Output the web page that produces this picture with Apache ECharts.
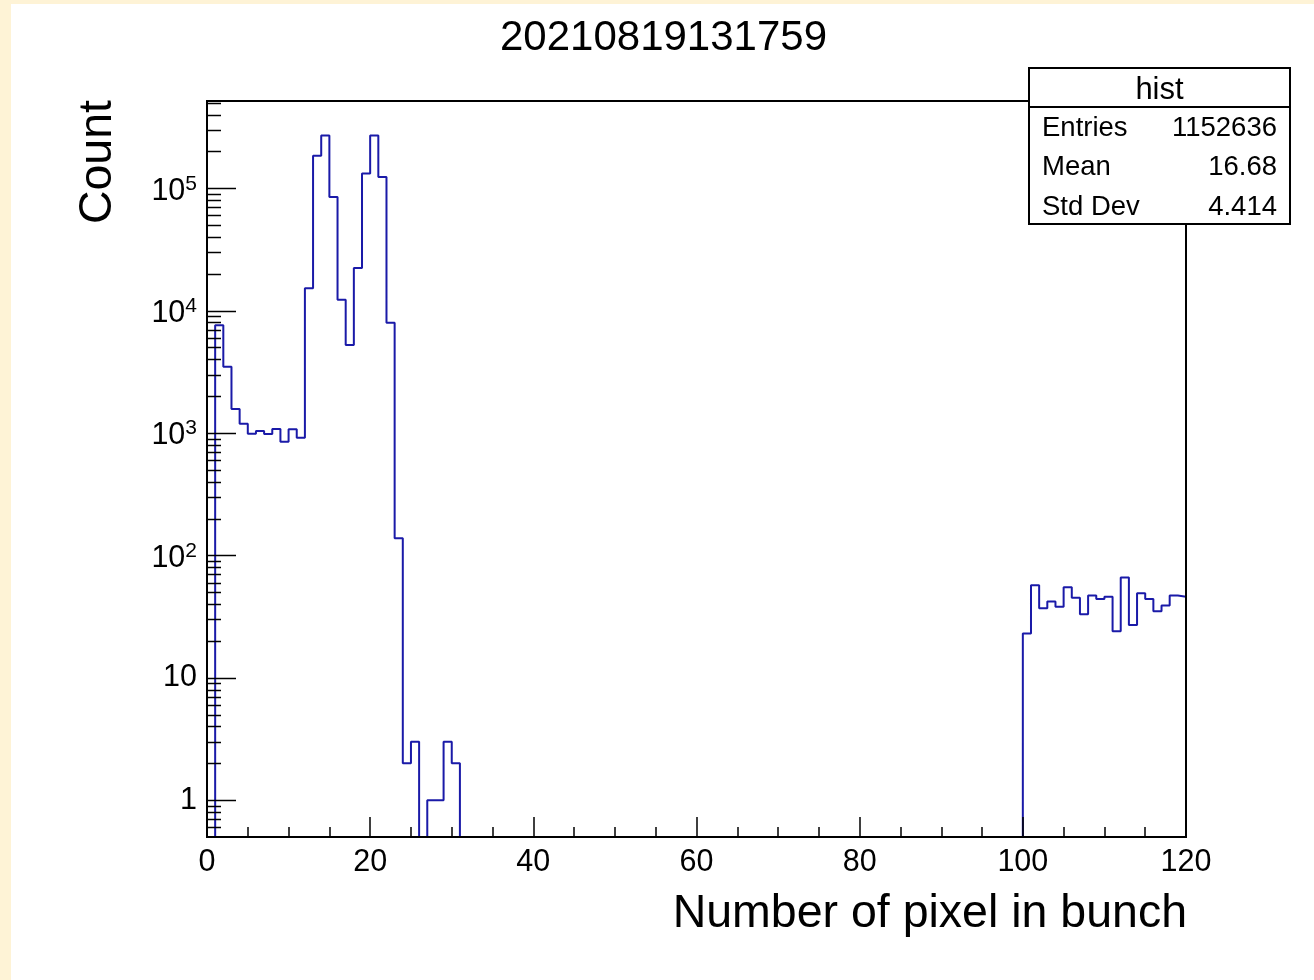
<!DOCTYPE html>
<html>
<head>
<meta charset="utf-8">
<script src="https://cdn.jsdelivr.net/npm/echarts@6/dist/echarts.min.js"></script>
<style>
html,body{margin:0;padding:0;background:#ffffff;}
#chart{width:1314px;height:980px;}
</style>
</head>
<body>
<div id="chart"></div>
<script>
// ---- data ----
const chartTitle = '20210819131759';
const xTitle = 'Number of pixel in bunch';
const yTitle = 'Count';
const statsName = 'hist';
const statsLabels = ['Entries', 'Mean', 'Std Dev'];
const statsValues = ['1152636', '16.68', '4.414'];

const binLow = 0;
const binWidth = 1;
// bin contents, bins 0..119
const counts = [
  0, 7600, 3480, 1570, 1190, 985, 1037, 979, 1076, 847,
  1074, 914, 15200, 184000, 269000, 84900, 12270, 5230, 22300, 131600,
  269000, 123700, 7960, 138, 2, 3, 0, 1, 1, 3,
  2, 0, 0, 0, 0, 0, 0, 0, 0, 0,
  0, 0, 0, 0, 0, 0, 0, 0, 0, 0,
  0, 0, 0, 0, 0, 0, 0, 0, 0, 0,
  0, 0, 0, 0, 0, 0, 0, 0, 0, 0,
  0, 0, 0, 0, 0, 0, 0, 0, 0, 0,
  0, 0, 0, 0, 0, 0, 0, 0, 0, 0,
  0, 0, 0, 0, 0, 0, 0, 0, 0, 0,
  23, 57, 37, 42, 38, 55, 45, 33, 47, 44,
  46, 24, 66, 27, 49, 44, 35, 39, 47, 46
];

const xMin = 0, xMax = 120, xInterval = 20;
const yMin = 0.5, yMax = 5.16e5;
const yMajorTicks = [1, 10, 100, 1000, 10000, 100000];
const yMinorMultipliers = [2, 3, 4, 5, 6, 7, 8, 9];

// ---- build ----
const FONT = '"Liberation Sans", Arial, Helvetica, sans-serif';
const LINE_BLUE = '#1a1aa8';

// histogram outline (empty bins drawn at the frame bottom, as ROOT does on log scale)
const stepData = counts.map((c, i) => [binLow + i * binWidth, c > 0 ? c : yMin]);
stepData.push([binLow + counts.length * binWidth, counts[counts.length - 1] > 0 ? counts[counts.length - 1] : yMin]);

// y ticks: [x, value, isMajor]
const yTickData = [];
yMajorTicks.forEach(v => yTickData.push([xMin, v, 1]));
[0.1].concat(yMajorTicks).forEach(d => {
  yMinorMultipliers.forEach(m => {
    const v = d * m;
    if (v > yMin * 1.0001 && v < yMax && yMajorTicks.indexOf(v) < 0) yTickData.push([xMin, v, 0]);
  });
});

const chart = echarts.init(document.getElementById('chart'), null, {renderer: 'canvas'});

function yLabel(v) {
  const e = Math.log10(v);
  const r = Math.round(e);
  if (Math.abs(e - r) > 1e-6) return '';
  if (r === 0) return '1';
  if (r === 1) return '10';
  return '{b|10}{s|' + r + '}';
}

const option = {
  animation: false,
  backgroundColor: '#ffffff',
  grid: {
    left: 207, right: 128, top: 101, bottom: 143,
    show: true, borderColor: '#000', borderWidth: 2,
    backgroundColor: 'transparent', z: 5,
    containLabel: false, outerBoundsMode: 'none'
  },
  xAxis: {
    type: 'value', min: xMin, max: xMax, interval: xInterval, z: 5,
    axisLine: {show: true, onZero: false, lineStyle: {color: '#000', width: 2}},
    axisTick: {show: true, inside: true, length: 20, lineStyle: {color: '#000', width: 1.5}},
    minorTick: {show: true, splitNumber: 4, length: 10, lineStyle: {color: '#000', width: 1.5}},
    splitLine: {show: false},
    minorSplitLine: {show: false},
    axisLabel: {color: '#000', fontSize: 30.5, fontFamily: FONT, margin: 10}
  },
  yAxis: {
    type: 'log', logBase: 10, min: yMin, max: yMax, z: 5,
    axisLine: {show: true, onZero: false, lineStyle: {color: '#000', width: 2}},
    axisTick: {show: false},
    minorTick: {show: false},
    splitLine: {show: false},
    minorSplitLine: {show: false},
    axisLabel: {
      color: '#000', fontSize: 30.5, fontFamily: FONT, margin: 10,
      showMinLabel: false, showMaxLabel: false,
      formatter: yLabel,
      rich: {
        b: {fontSize: 30.5, fontFamily: FONT, color: '#000', lineHeight: 30, padding: [6, 0, 0, 0]},
        s: {fontSize: 21, fontFamily: FONT, color: '#000', verticalAlign: 'top', lineHeight: 21}
      }
    }
  },
  series: [
    {
      type: 'line',
      data: stepData,
      step: 'end',
      showSymbol: false,
      symbol: 'none',
      clip: true,
      lineStyle: {color: LINE_BLUE, width: 2},
      z: 3,
      silent: true
    },
    {
      type: 'custom',
      coordinateSystem: 'cartesian2d',
      data: yTickData,
      clip: false,
      silent: true,
      z: 6,
      encode: {x: 0, y: 1},
      renderItem: function (params, api) {
        const p = api.coord([api.value(0), api.value(1)]);
        const len = api.value(2) ? 29 : 14;
        return {
          type: 'line',
          shape: {x1: p[0], y1: Math.round(p[1]) + 0.5, x2: p[0] + len, y2: Math.round(p[1]) + 0.5},
          style: {stroke: '#000', lineWidth: 1.5}
        };
      }
    }
  ],
  graphic: [
    {type: 'rect', left: 0, top: 0, shape: {width: 1314, height: 4}, style: {fill: '#fef3d6'}, z: 100},
    {type: 'rect', left: 0, top: 0, shape: {width: 11, height: 980}, style: {fill: '#fef3d6'}, z: 100},
    {type: 'text', x: 663.5, y: 38, z: 100,
      style: {text: chartTitle, font: '42px ' + FONT, fill: '#000', align: 'center', verticalAlign: 'middle'}},
    {type: 'text', x: 1187, y: 914, z: 100,
      style: {text: xTitle, font: '46.5px ' + FONT, fill: '#000', align: 'right', verticalAlign: 'middle'}},
    {type: 'text', x: 98, y: 100, rotation: Math.PI / 2, z: 100,
      style: {text: yTitle, font: '46.5px ' + FONT, fill: '#000', align: 'right', verticalAlign: 'middle'}},
    {type: 'group', z: 100, children: [
      {type: 'rect', shape: {x: 1029, y: 68, width: 261, height: 156}, style: {fill: '#fff', stroke: '#000', lineWidth: 2}, z: 100},
      {type: 'line', shape: {x1: 1029, y1: 107, x2: 1290, y2: 107}, style: {stroke: '#000', lineWidth: 2}, z: 101},
      {type: 'text', x: 1159.5, y: 90, z: 101,
        style: {text: statsName, font: '31px ' + FONT, fill: '#000', align: 'center', verticalAlign: 'middle'}},
      {type: 'text', x: 1042, y: 128, z: 101,
        style: {text: statsLabels[0], font: '27.5px ' + FONT, fill: '#000', align: 'left', verticalAlign: 'middle'}},
      {type: 'text', x: 1277, y: 128, z: 101,
        style: {text: statsValues[0], font: '27.5px ' + FONT, fill: '#000', align: 'right', verticalAlign: 'middle'}},
      {type: 'text', x: 1042, y: 167, z: 101,
        style: {text: statsLabels[1], font: '27.5px ' + FONT, fill: '#000', align: 'left', verticalAlign: 'middle'}},
      {type: 'text', x: 1277, y: 167, z: 101,
        style: {text: statsValues[1], font: '27.5px ' + FONT, fill: '#000', align: 'right', verticalAlign: 'middle'}},
      {type: 'text', x: 1042, y: 207, z: 101,
        style: {text: statsLabels[2], font: '27.5px ' + FONT, fill: '#000', align: 'left', verticalAlign: 'middle'}},
      {type: 'text', x: 1277, y: 207, z: 101,
        style: {text: statsValues[2], font: '27.5px ' + FONT, fill: '#000', align: 'right', verticalAlign: 'middle'}}
    ]}
  ]
};

chart.setOption(option);
</script>
</body>
</html>
